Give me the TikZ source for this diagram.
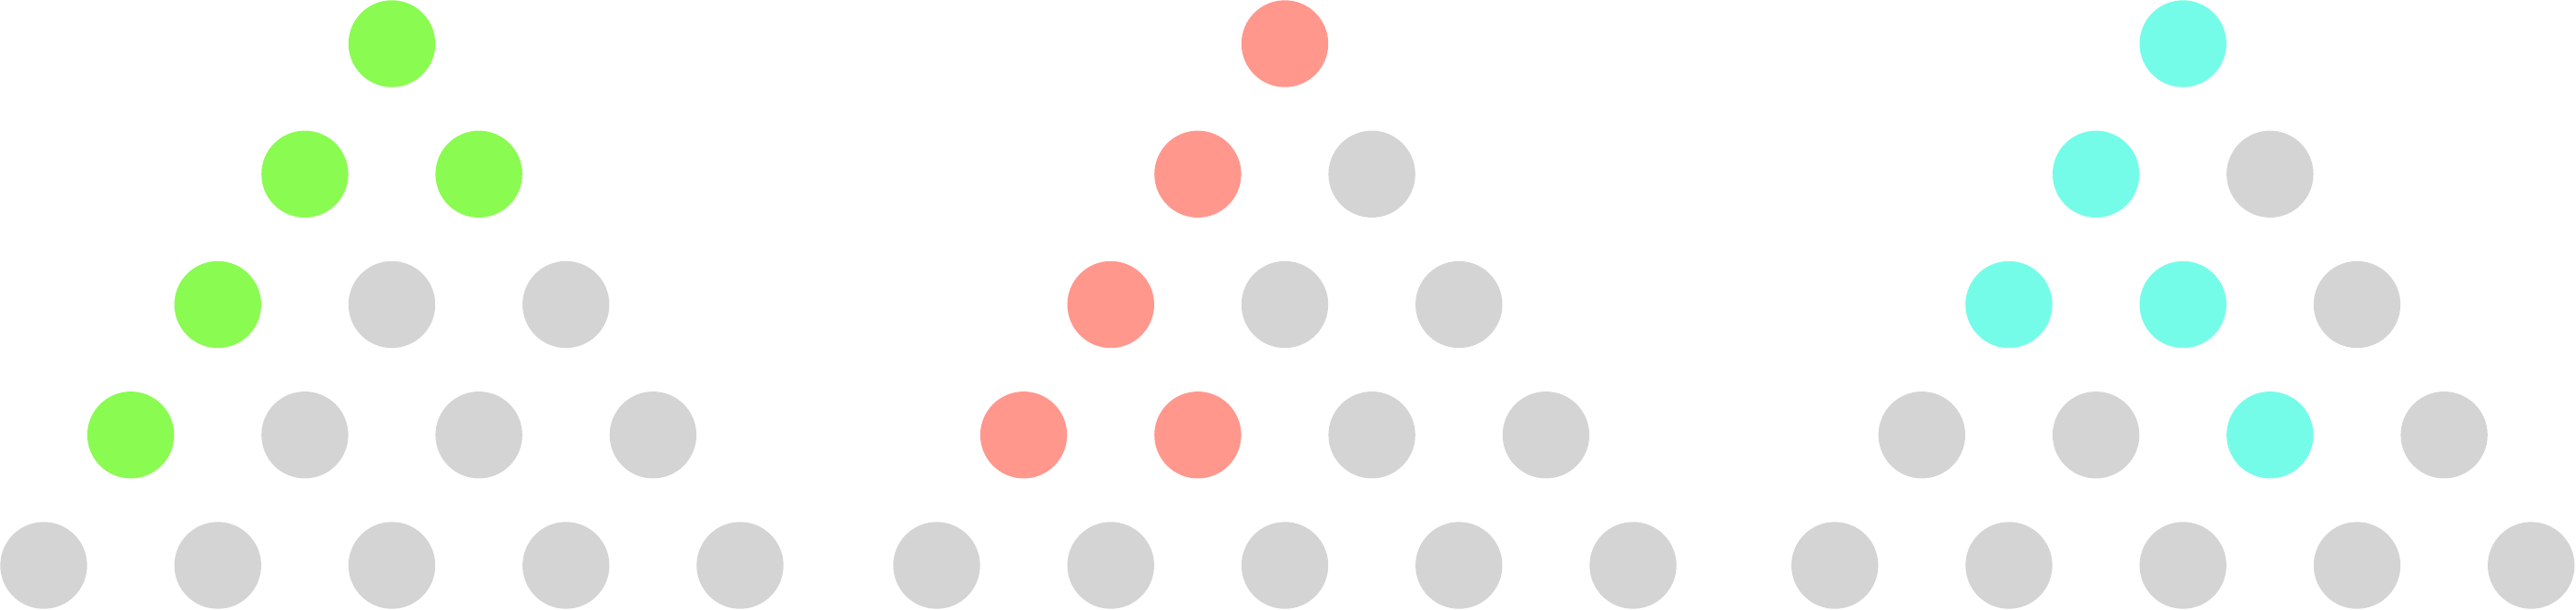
\documentclass[tikz,border=0pt]{standalone}
\usepackage{tikz}

\definecolor{dotgray}{HTML}{D4D4D4}
\definecolor{dotgreen}{HTML}{8AFB50}
\definecolor{dotred}{HTML}{FF978D}
\definecolor{dotcyan}{HTML}{75FCE9}

\begin{document}
\begin{tikzpicture}[scale=1, dot/.style={radius=0.477}]

% 画布范围
\useasboundingbox (-0.48,-0.48) rectangle (27.82,6.21);

% 第一个三角形(绿色)
\begin{scope}[xshift=0cm]
% 第一行
\fill[dotgreen, dot] (3.825,5.73) circle;
% 第二行
\fill[dotgreen, dot] (2.869,4.2975) circle;
\fill[dotgreen, dot] (4.781,4.2975) circle;
% 第三行
\fill[dotgreen, dot] (1.9125,2.865) circle;
\fill[dotgray, dot] (3.825,2.865) circle;
\fill[dotgray, dot] (5.7375,2.865) circle;
% 第四行
\fill[dotgreen, dot] (0.956,1.4325) circle;
\fill[dotgray, dot] (2.869,1.4325) circle;
\fill[dotgray, dot] (4.781,1.4325) circle;
\fill[dotgray, dot] (6.694,1.4325) circle;
% 第五行
\fill[dotgray, dot] (0,0) circle;
\fill[dotgray, dot] (1.9125,0) circle;
\fill[dotgray, dot] (3.825,0) circle;
\fill[dotgray, dot] (5.7375,0) circle;
\fill[dotgray, dot] (7.65,0) circle;
\end{scope}

% 第二个三角形(红色)
\begin{scope}[xshift=9.81cm]
% 第一行
\fill[dotred, dot] (3.825,5.73) circle;
% 第二行
\fill[dotred, dot] (2.869,4.2975) circle;
\fill[dotgray, dot] (4.781,4.2975) circle;
% 第三行
\fill[dotred, dot] (1.9125,2.865) circle;
\fill[dotgray, dot] (3.825,2.865) circle;
\fill[dotgray, dot] (5.7375,2.865) circle;
% 第四行
\fill[dotred, dot] (0.956,1.4325) circle;
\fill[dotred, dot] (2.869,1.4325) circle;
\fill[dotgray, dot] (4.781,1.4325) circle;
\fill[dotgray, dot] (6.694,1.4325) circle;
% 第五行
\fill[dotgray, dot] (0,0) circle;
\fill[dotgray, dot] (1.9125,0) circle;
\fill[dotgray, dot] (3.825,0) circle;
\fill[dotgray, dot] (5.7375,0) circle;
\fill[dotgray, dot] (7.65,0) circle;
\end{scope}

% 第三个三角形(青色)
\begin{scope}[xshift=19.677cm]
% 第一行
\fill[dotcyan, dot] (3.825,5.73) circle;
% 第二行
\fill[dotcyan, dot] (2.869,4.2975) circle;
\fill[dotgray, dot] (4.781,4.2975) circle;
% 第三行
\fill[dotcyan, dot] (1.9125,2.865) circle;
\fill[dotcyan, dot] (3.825,2.865) circle;
\fill[dotgray, dot] (5.7375,2.865) circle;
% 第四行
\fill[dotgray, dot] (0.956,1.4325) circle;
\fill[dotgray, dot] (2.869,1.4325) circle;
\fill[dotcyan, dot] (4.781,1.4325) circle;
\fill[dotgray, dot] (6.694,1.4325) circle;
% 第五行
\fill[dotgray, dot] (0,0) circle;
\fill[dotgray, dot] (1.9125,0) circle;
\fill[dotgray, dot] (3.825,0) circle;
\fill[dotgray, dot] (5.7375,0) circle;
\fill[dotgray, dot] (7.65,0) circle;
\end{scope}

\end{tikzpicture}
\end{document}
